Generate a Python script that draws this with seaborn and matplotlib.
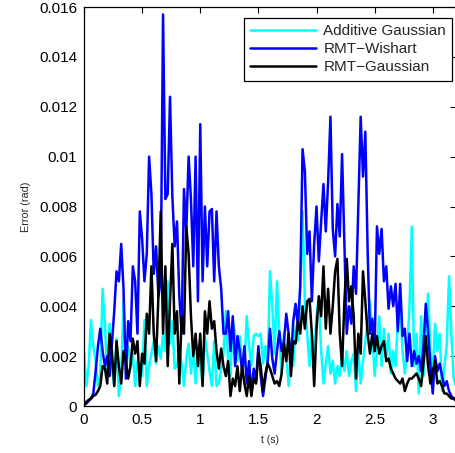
import numpy as np
import pandas as pd
import matplotlib
matplotlib.use("Agg")
import matplotlib.pyplot as plt
import seaborn as sns

# error values in mrad, sampled every 0.02 s
DT = 0.02

additive_gaussian = [
    2.2, 0.8, 1.6, 3.45, 2.4, 1.8, 0.8, 1.2, 4.7, 3.3,
    1.2, 3.3, 1.6, 0.8, 2.7, 0.4, 1.3, 4.2, 2.1, 2.4,
    1.6, 2.1, 0.8, 1.8, 1.6, 1.2, 3.45, 0.8, 1.6, 2.1,
    2.6, 1.7, 2.4, 1.9, 2.9, 2.2, 5.0, 2.5, 3.4, 1.5,
    1.6, 2.2, 1.7, 0.8, 1.9, 2.5, 1.3, 2.3, 0.9, 2.4,
    1.6, 0.9, 2.8, 2.1, 1.4, 0.8, 2.6, 0.8, 0.9, 1.5,
    2.1, 3.8, 1.8, 1.2, 3.4, 2.9, 1.8, 2.8, 1.8, 1.6,
    3.6, 2.4, 1.6, 2.8, 2.9, 2.8, 2.9, 1.7, 2.4, 1.6,
    5.4, 4.0, 2.1, 5.0, 2.9, 1.3, 2.9, 2.1, 0.8, 1.8,
    1.6, 3.2, 2.6, 4.7, 7.8, 4.2, 2.9, 1.6, 2.9, 2.1,
    3.6, 4.4, 2.2, 0.9, 1.7, 2.4, 1.3, 1.8, 0.9, 1.6,
    1.2, 2.1, 1.4, 2.2, 1.2, 1.8, 2.1, 0.6, 2.2, 0.9,
    1.8, 2.6, 3.4, 4.2, 2.9, 1.2, 2.2, 3.6, 1.6, 3.1,
    1.9, 2.9, 1.3, 2.2, 1.6, 3.4, 4.2, 2.2, 1.3, 2.2,
    4.0, 7.2, 1.6, 2.9, 0.5, 3.6, 1.2, 2.9, 4.5, 2.2,
    1.3, 3.3, 2.2, 2.9, 0.6, 1.6, 2.4, 5.2, 2.9, 1.1,
    0.8,
]

rmt_wishart = [
    0.2, 0.1, 0.2, 0.3, 0.5, 1.4, 2.4, 3.1, 2.2, 1.6,
    2.0, 1.2, 2.5, 3.8, 5.4, 5.0, 6.5, 4.7, 1.1, 3.4,
    2.6, 5.6, 5.0, 2.9, 7.8, 6.7, 5.0, 6.1, 10.0, 8.5,
    5.3, 6.4, 4.4, 5.0, 15.7, 8.3, 8.5, 12.4, 8.4, 6.4,
    7.4, 4.4, 2.9, 8.7, 7.0, 10.0, 8.3, 5.6, 10.0, 4.2,
    11.3, 5.0, 8.0, 5.6, 7.8, 7.9, 5.0, 7.8, 5.6, 4.7,
    2.9, 2.9, 3.8, 2.2, 3.6, 1.6, 2.8, 2.2, 1.4, 2.4,
    0.9, 1.8, 0.5, 1.5, 1.0, 2.4, 1.2, 0.4, 1.1, 1.8,
    3.1, 1.9, 1.3, 2.2, 3.0, 2.2, 2.6, 3.7, 2.9, 1.8,
    3.4, 4.1, 3.2, 4.8, 10.3, 9.4, 6.1, 7.0, 4.2, 6.5,
    8.0, 5.8, 7.4, 8.9, 7.0, 9.0, 11.6, 7.1, 6.0, 8.1,
    6.8, 10.1, 6.5, 2.9, 4.0, 3.3, 5.6, 4.5, 8.0, 11.6,
    9.2, 11.0, 6.2, 2.9, 3.5, 2.2, 7.2, 6.1, 7.1, 5.0,
    5.6, 3.9, 4.8, 4.0, 4.9, 3.0, 4.9, 2.8, 3.1, 1.8,
    2.9, 1.6, 2.2, 1.7, 2.0, 1.4, 2.4, 4.1, 3.0, 1.6,
    0.5, 2.0, 1.4, 1.7, 1.2, 0.8, 1.0, 0.6, 0.4, 0.3,
    0.3,
]

rmt_gaussian = [
    0.0, 0.15, 0.25, 0.3, 0.4, 0.45, 0.6, 0.8, 1.6, 1.5,
    0.9, 2.9, 2.2, 0.8, 2.6, 1.6, 0.9, 2.2, 1.8, 1.1,
    1.6, 2.7, 2.1, 2.6, 0.8, 2.1, 1.7, 3.7, 2.9, 5.6,
    2.9, 1.8, 4.4, 7.8, 2.9, 5.6, 1.6, 4.2, 6.5, 2.9,
    3.8, 0.9, 3.6, 2.9, 7.2, 6.1, 3.6, 2.0, 2.9, 1.6,
    2.9, 0.8, 3.8, 2.9, 4.2, 3.1, 3.4, 2.2, 1.5, 2.3,
    1.6, 1.2, 1.8, 0.4, 1.1, 0.8, 1.6, 0.6, 1.6, 0.9,
    0.4, 1.2, 0.4, 1.1, 0.9, 2.1, 1.6, 0.6, 1.3, 1.7,
    1.5, 1.2, 0.9, 1.0, 0.8, 1.3, 2.5, 1.8, 2.9, 1.2,
    2.6, 2.5, 3.4, 2.9, 4.0, 3.1, 4.2, 4.3, 2.9, 0.8,
    3.1, 4.4, 3.6, 5.6, 3.1, 4.7, 2.9, 4.0, 5.4, 5.9,
    2.9, 1.6, 4.2, 5.9, 4.2, 4.8, 3.6, 1.1, 2.9, 2.1,
    5.4, 4.2, 2.9, 2.1, 2.9, 2.2, 2.8, 2.1, 2.4, 2.6,
    1.8, 1.9, 1.5, 1.3, 1.1, 1.0, 0.9, 1.1, 0.6, 0.9,
    1.1, 1.1, 1.2, 1.3, 1.1, 0.8, 1.7, 2.8, 1.6, 0.9,
    1.4, 1.8, 0.9, 1.0, 0.8, 0.5, 0.5, 0.4, 0.3, 0.3,
    0.2,
]

series_names = ["Additive Gaussian", "RMT\u2212Wishart", "RMT\u2212Gaussian"]
series_colors = ["#00ffff", "#0000ff", "#000000"]
y_ticks = [0, 0.002, 0.004, 0.006, 0.008, 0.01, 0.012, 0.014, 0.016]
x_ticks = [0, 0.5, 1, 1.5, 2, 2.5, 3]

frames = []
for name, vals in zip(series_names, [additive_gaussian, rmt_wishart, rmt_gaussian]):
    vals = np.array(vals) * 1e-3
    frames.append(pd.DataFrame({"t": DT * np.arange(len(vals)), "err": vals, "series": name}))
df = pd.concat(frames, ignore_index=True)

sns.set_style("white")
plt.rcParams['font.family'] = ['Liberation Sans', 'DejaVu Sans']

fig = plt.figure(figsize=(4.55, 4.53), dpi=100)
ax = fig.add_axes([84 / 455, 47 / 453, 372 / 455, 399 / 453])

sns.lineplot(data=df, x="t", y="err", hue="series", hue_order=series_names,
             palette=dict(zip(series_names, series_colors)), estimator=None,
             sort=False, linewidth=1.8, ax=ax, legend=False)

ax.set_xlim(0, 3.2)
ax.set_ylim(0, 0.016)
ax.set_xticks(x_ticks)
ax.set_xticklabels([f"{v:g}" for v in x_ticks])
ax.set_yticks(y_ticks)
ax.set_yticklabels([f"{v:g}" for v in y_ticks])
ax.tick_params(direction="in", length=4, width=0.8, labelsize=11, colors="black",
               top=True, right=True, pad=5)
for s in ax.spines.values():
    s.set_color("black")
    s.set_linewidth(0.9)

ax.set_xlabel("t (s)", fontsize=7.5, labelpad=6)
ax.set_ylabel("Error (rad)", fontsize=7.8, labelpad=6)

handles = [plt.Line2D([], [], color=c, linewidth=1.8) for c in series_colors]
leg = ax.legend(handles, series_names, loc="upper right", bbox_to_anchor=(0.99, 0.973),
                borderaxespad=0, fontsize=11, handlelength=4.3, handletextpad=0.5,
                labelspacing=0.28, fancybox=False, framealpha=1, edgecolor="black",
                borderpad=0.4)
leg.get_frame().set_linewidth(0.9)

fig.savefig("out.png", dpi=100)
